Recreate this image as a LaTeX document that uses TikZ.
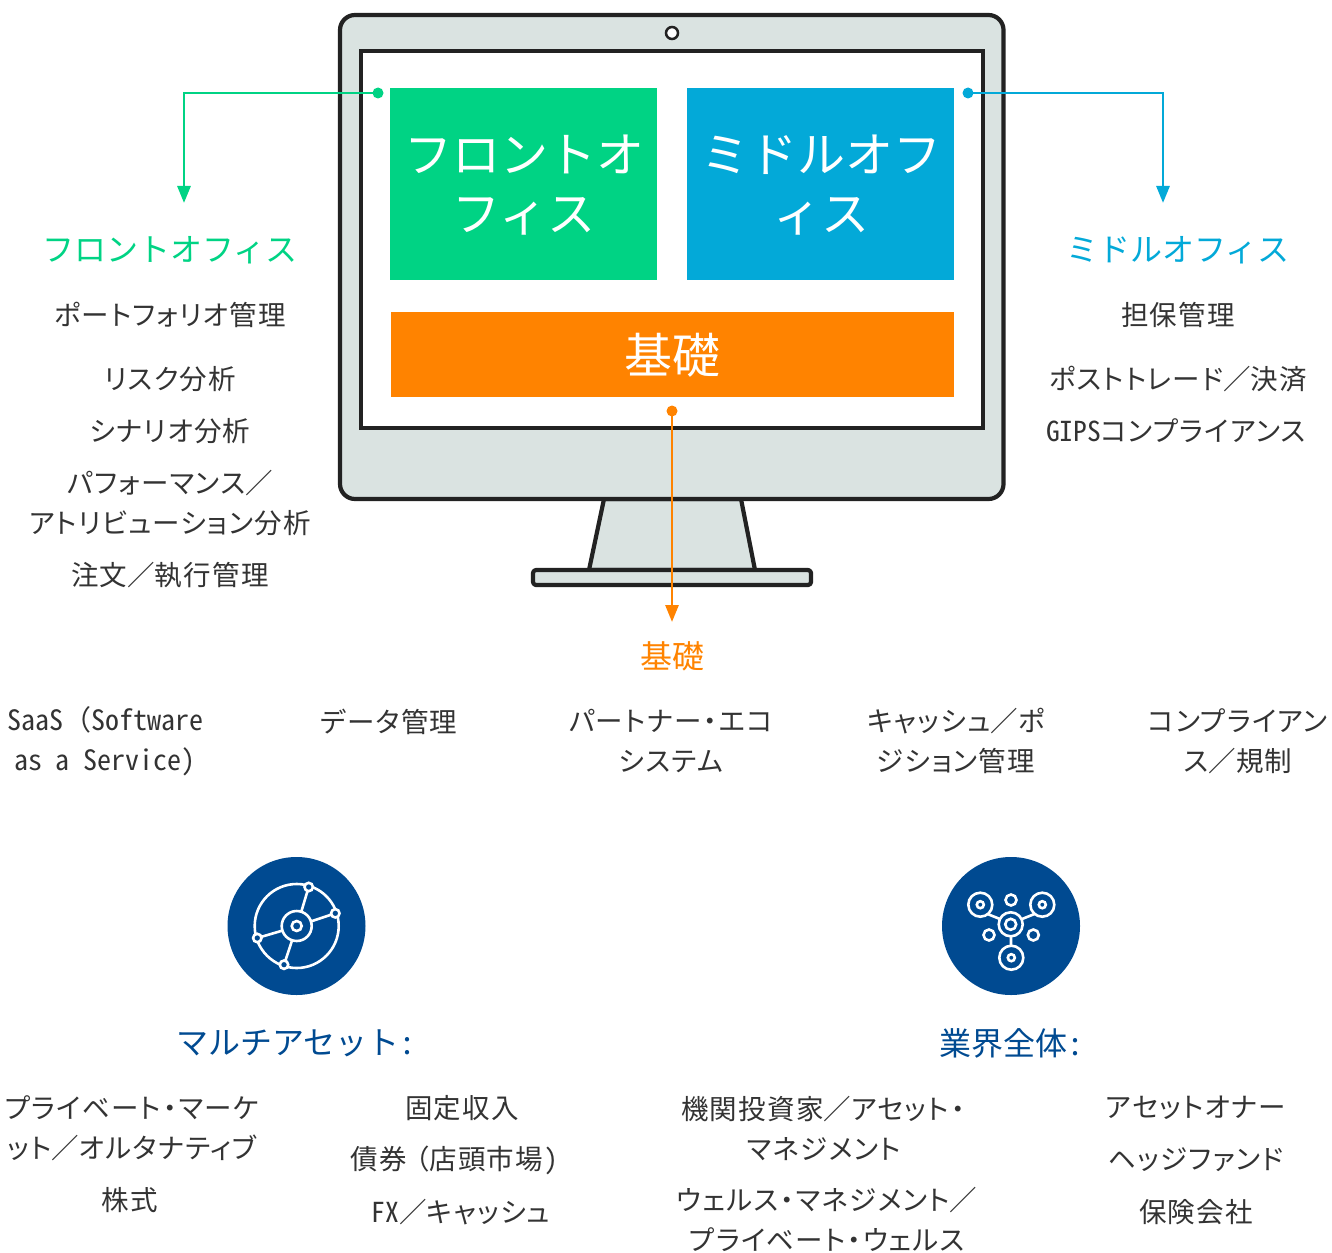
\documentclass[tikz,border=0pt]{standalone}
\usepackage{fontspec}
\setmainfont[RawFeature=+hwid]{Noto Sans CJK JP}
\newfontfamily\fwfont{Noto Sans CJK JP}
\newfontfamily\palfont[RawFeature={+hwid;+palt}]{Noto Sans CJK JP}
\newfontfamily\palsp[RawFeature={+hwid;+palt},LetterSpace=4.5]{Noto Sans CJK JP}
\newcommand{\fws}{{\fwfont ／}}
\newcommand{\nd}{\kern2pt・\kern2pt}
\usetikzlibrary{arrows.meta}
\definecolor{cgreen}{HTML}{00D384}
\definecolor{cblue}{HTML}{03A9D8}
\definecolor{corange}{HTML}{FF8300}
\definecolor{cnavy}{HTML}{004A91}
\definecolor{cgray}{HTML}{DAE3E1}
\definecolor{cink}{HTML}{222222}
\definecolor{ctext}{HTML}{333333}
\tikzset{
  body/.style={text=ctext,inner sep=0pt,align=center,font=\palsp\fontsize{27.5}{40}\selectfont},
  latin/.style={text=ctext,inner sep=0pt,align=center,font=\palfont\fontsize{28}{40}\selectfont},
  headline/.style={inner sep=0pt,align=center,font=\fontsize{32}{40}\selectfont},
  panel/.style={inner sep=0pt,text=white,align=center,font=\fontsize{48}{59}\selectfont},
  hw/.style={draw=cink,line width=4.2pt,fill=cgray,line join=round},
  dot/.style={circle,fill=#1,inner sep=0pt,minimum size=11pt},
  lead/.style={draw=#1,line width=2.8pt,-{Triangle[length=17pt,width=13pt]}},
  disc/.style={circle,fill=cnavy,inner sep=0pt,minimum size=138pt},
  ic/.style={draw=white,line width=2.6pt},
}
\begin{document}
\begin{tikzpicture}[x=1pt,y=-1pt]
\useasboundingbox (0,0) rectangle (1332,1252);
% monitor
\draw[hw] (604,499) -- (741,499) -- (755,570) -- (589,570) -- cycle;
\draw[hw,rounded corners=3pt] (533,570) rectangle (811,585);
\draw[hw,rounded corners=15pt] (340,15) rectangle (1003.5,499);
\draw[draw=cink,line width=4.2pt,fill=white] (361,51) rectangle (983,428);
\draw[draw=cink,line width=2.5pt,fill=white] (672,33) circle (6);
% panels
\node[panel,fill=cgreen,minimum width=267pt,minimum height=192pt] (front) at (523.5,184) {};
\node[panel,fill=cblue,minimum width=267pt,minimum height=192pt] (mid) at (820.5,184) {};
\node[panel] (ft) at (524,185.5) {フロントオ\\フィス};
\node[panel] (mt) at (821,185.5) {ミドルオフ\\ィス};
\node[panel,fill=corange,minimum width=563pt,minimum height=85pt] (base) at (672.5,354.5) {};
\node[panel] (bt) at (672,355) {基礎};
% connectors
\node[dot=cgreen] (dg) at (378,93) {};
\node[dot=cblue] (db) at (968,93) {};
\node[dot=corange] (do) at (672,411) {};
\coordinate (eg) at (184,203);
\coordinate (eb) at (1163,203);
\coordinate (eo) at (672,622);
\draw[lead=cgreen] (dg.center) -| (eg);
\draw[lead=cblue] (db.center) -| (eb);
\draw[lead=corange] (do.center) -- (eo);
% left column
\node[headline,text=cgreen] (t1) at (170,250) {フロントオフィス};
\node[body] (l1) at (170,315) {ポートフォリオ管理};
\node[body] (l2) at (170,379) {リスク分析};
\node[body] (l3) at (170,431) {シナリオ分析};
\node[body] (l4) at (170,503) {パフォーマンス\fws\\アトリビューション分析};
\node[body] (l5) at (170,575) {注文\fws 執行管理};
% right column
\node[headline,text=cblue] (t2) at (1178,250) {ミドルオフィス};
\node[body] (r1) at (1178,315) {担保管理};
\node[body] (r2) at (1178,379) {ポストトレード\fws 決済};
\node[body] (r3) at (1176,431) {{\palfont GIPS}コンプライアンス};
% base row
\node[headline,text=corange] (t3) at (672,656.5) {基礎};
\node[latin] (b1) at (105,741) {SaaS{\fwfont （}Software\\as a Service)};
\node[body] (b2) at (389,722) {データ管理};
\node[body] (b3) at (671,741) {パートナー\nd エコ\\システム};
\node[body] (b4) at (956,741) {キャッシュ\fws ポ\\ジション管理};
\node[body] (b5) at (1238,741) {コンプライアン\\ス\fws 規制};
% icon 1
\node[disc] (i1) at (296.5,926) {};
\draw[ic] (296.7,926) circle (42);
\draw[ic] (296.7,926) circle (15);
\draw[ic] (296.7,926) circle (5);
\foreach \nx/\ny/\sx/\sy in {308.7/887/301.3/911.7, 335.3/913.3/311/921.4, 257.3/938/282.4/930.6, 284/964.7/292.1/940.3}{
  \draw[ic] (\sx,\sy) -- (\nx,\ny);
  \draw[ic,fill=cnavy] (\nx,\ny) circle (4.2);
}
% icon 2
\node[disc] (i2) at (1011,926) {};
\draw[ic] (985,913) -- (1000,919) (1037,913) -- (1022,919) (1011,937) -- (1011,946);
\foreach \cx/\cy/\ra/\rb in {1010.7/924.3/12/5.5, 980.3/904.7/12/3.5, 1042.3/904.7/12/3.5, 1011.3/957.7/12/3.5}{
  \draw[ic,fill=cnavy] (\cx,\cy) circle (\ra);
  \draw[ic] (\cx,\cy) circle (\rb);
}
\foreach \cx/\cy in {1011/900, 989/935, 1033.3/935}{
  \draw[ic] (\cx,\cy) circle (5.5);
}
% lower headings
\node[headline,text=cnavy] (t4) at (296,1043) {マルチアセット:};
\node[headline,text=cnavy] (t5) at (1011,1043) {業界全体:};
% lower text
\node[body] (m1) at (132,1128) {プライベート\nd マーケ\\ット\fws オルタナティブ};
\node[body] (m2) at (130,1200) {株式};
\node[body] (m3) at (462,1108) {固定収入};
\node[body] (m4) at (454.5,1160) {債券\kern-5pt{\fwfont （}店頭市場）};
\node[body] (m5) at (461,1212) {{\palfont FX}\fws キャッシュ};
\node[body] (n1) at (824,1128) {機関投資家\fws アセット\nd\\マネジメント};
\node[body] (n2) at (827,1219) {ウェルス\nd マネジメント\fws\\プライベート\nd ウェルス};
\node[body] (n3) at (1196,1108) {アセットオナー};
\node[body] (n4) at (1196,1160) {ヘッジファンド};
\node[body] (n5) at (1196,1212) {保険会社};
\end{tikzpicture}
\end{document}
